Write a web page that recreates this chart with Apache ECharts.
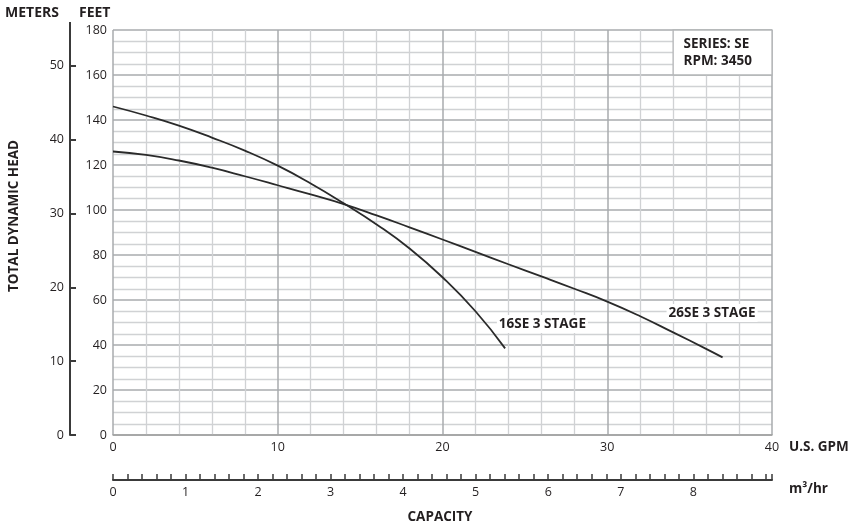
<!DOCTYPE html>
<html><head><meta charset="utf-8">
<script src="https://cdn.jsdelivr.net/npm/echarts@6/dist/echarts.min.js"></script>
<style>html,body{margin:0;padding:0;background:#fff}#c{width:857px;height:527px}</style>
</head><body><div id="c"></div>
<script>
// Data (U.S. GPM, feet)
const curve16SE = [[0,146],[2,142],[4,137.5],[6,132.2],[8,126.4],[10,119.7],[12,111.8],[14,103.0],[16,93.6],[18,82.9],[20,70.1],[22,55.0],[23.8,38.5]];
const curve26SE = [[0,126],[2,124.5],[4,122.0],[6,118.8],[8,115.0],[10,111.0],[12,106.9],[14,102.6],[16,97.6],[18,92.3],[20,86.9],[22,81.4],[24,75.9],[26,70.5],[28,65.0],[30,59.3],[32,52.8],[34,45.6],[36,38.3],[37,34.5]];
const seriesNames = ['16SE 3 STAGE','26SE 3 STAGE'];
const labelAt = [[23.3,49.3],[33.6,54.2]];
const infoLines = ['SERIES: SE','RPM: 3450'];
const gpmRange = [0,40];
const feetRange = [0,180];
const FT_PER_M = 3.28084;
const GPM_PER_M3H = 4.40287;

const TXT = '#231f20';
const FONT = '"Open Sans", "Noto Sans", sans-serif';
const chart = echarts.init(document.getElementById('c'));

const lineSeries = (name, data, lbl) => ({
  name, type:'line', data, xAxisIndex:0, yAxisIndex:0,
  smooth:0.5, symbol:'none',
  lineStyle:{color:'#2a2a2a', width:1.8},
  markPoint:{
    symbol:'circle', symbolSize:0,
    data:[{coord:lbl, value:name}],
    label:{show:true, position:'right', distance:0, formatter:'{c}', backgroundColor:'#fff', padding:[2,2],
      color:TXT, fontFamily:FONT, fontWeight:'bold', fontSize:13.5}
  }
});

chart.setOption({
  animation:false,
  textStyle:{fontFamily:FONT},
  grid:{left:113, right:85, top:30, bottom:92, containLabel:false, outerBoundsMode:'none'},
  xAxis:[
    {type:'value', min:gpmRange[0], max:gpmRange[1], interval:10, position:'bottom',
     axisLine:{show:true, onZero:false, lineStyle:{color:'#a0a0a0', width:1.5}},
     axisTick:{show:false},
     axisLabel:{color:TXT, fontSize:12.5, margin:6},
     splitLine:{show:true, lineStyle:{color:'#a9abae', width:1.5}},
     minorTick:{show:false, splitNumber:5},
     minorSplitLine:{show:true, lineStyle:{color:'#d0d2d4', width:1.3}}},
    {type:'value', min:0, max:gpmRange[1]/GPM_PER_M3H, interval:1, position:'bottom', offset:45,
     axisLine:{show:true, onZero:false, lineStyle:{color:'#3a3a3a', width:2}},
     axisTick:{show:true, inside:true, length:6, lineStyle:{color:'#3a3a3a', width:1.5}},
     minorTick:{show:true, splitNumber:5, length:6, lineStyle:{color:'#3a3a3a', width:1.5}},
     axisLabel:{color:TXT, fontSize:12.5, margin:6, showMaxLabel:false, formatter:v => (v >= 9 ? '' : String(v))},
     splitLine:{show:false}}
  ],
  yAxis:[
    {type:'value', min:feetRange[0], max:feetRange[1], interval:20, position:'left',
     axisLine:{show:false, onZero:false}, axisTick:{show:false},
     axisLabel:{color:TXT, fontSize:12.5, margin:6},
     splitLine:{show:true, lineStyle:{color:'#a9abae', width:1.5}},
     minorTick:{show:false, splitNumber:4},
     minorSplitLine:{show:true, lineStyle:{color:'#d0d2d4', width:1.3}}},
    {type:'value', min:0, max:feetRange[1]/FT_PER_M, interval:10, position:'left', offset:43,
     axisLine:{show:true, onZero:false, lineStyle:{color:'#3a3a3a', width:2}},
     axisTick:{show:true, inside:true, length:6, lineStyle:{color:'#3a3a3a', width:2}},
     axisLabel:{color:TXT, fontSize:12.5, margin:6, showMaxLabel:false, formatter:v => (v % 10 === 0 ? String(v) : '')},
     splitLine:{show:false}}
  ],
  series:[
    Object.assign(lineSeries(seriesNames[0], curve16SE, labelAt[0]), {
      markArea:{silent:true,
        itemStyle:{color:'#fff', borderColor:'#b4b6b8', borderWidth:1.3},
        label:{show:true, position:'insideLeft', distance:11, formatter:infoLines.join('\n'),
          color:TXT, fontFamily:FONT, fontWeight:'bold', fontSize:13.5, lineHeight:17},
        data:[[{coord:[34,180]},{coord:[40,160]}]]}
    }),
    lineSeries(seriesNames[1], curve26SE, labelAt[1])
  ],
  graphic:[
    {type:'line', shape:{x1:70, y1:22, x2:70, y2:31}, style:{stroke:'#3a3a3a', lineWidth:2}},
    {type:'text', left:5, top:6, style:{text:'METERS', fill:TXT, font:'bold 14px '+FONT}},
    {type:'text', left:79, top:6, style:{text:'FEET', fill:TXT, font:'bold 14px '+FONT}},
    {type:'text', x:14, y:216, rotation:Math.PI/2, style:{text:'TOTAL DYNAMIC HEAD', fill:TXT, font:'bold 13.5px '+FONT, align:'center', verticalAlign:'middle'}},
    {type:'text', left:789, top:440, style:{text:'U.S. GPM', fill:TXT, font:'bold 13.5px '+FONT}},
    {type:'text', left:789, top:482, style:{text:'m³/hr', fill:TXT, font:'bold 13.5px '+FONT}},
    {type:'text', x:440, y:517, style:{text:'CAPACITY', fill:TXT, font:'bold 13.5px '+FONT, align:'center', verticalAlign:'middle'}}
  ]
});
</script>
</body></html>
